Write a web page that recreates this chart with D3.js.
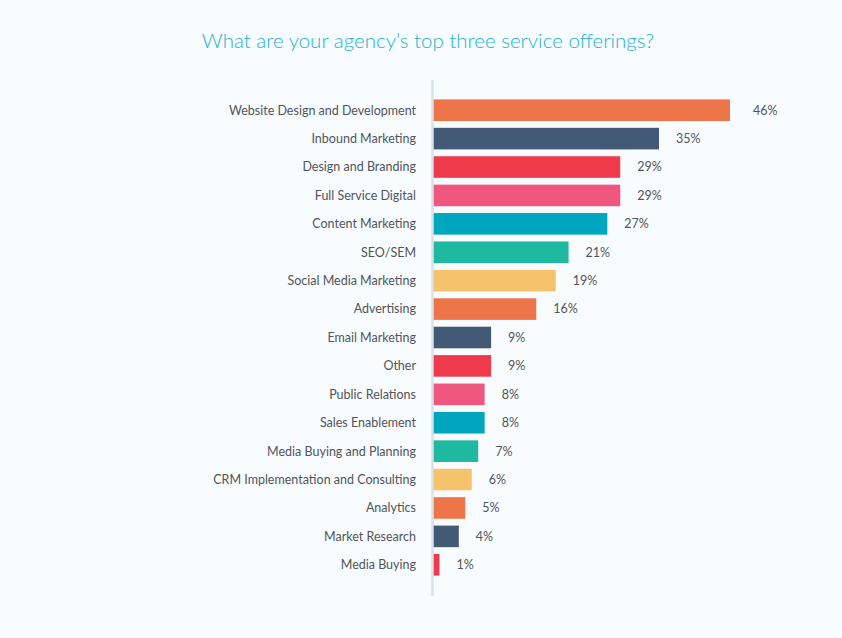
<!DOCTYPE html>
<html><head><meta charset="utf-8">
<script src="https://cdn.jsdelivr.net/npm/d3@7"></script>
<style>
html,body{margin:0;padding:0;background:#f8fcfe;}
svg{display:block;}
</style></head>
<body>
<svg id="chart" width="842" height="638"></svg>
<script>
const categories = ["Website Design and Development","Inbound Marketing","Design and Branding","Full Service Digital","Content Marketing","SEO/SEM","Social Media Marketing","Advertising","Email Marketing","Other","Public Relations","Sales Enablement","Media Buying and Planning","CRM Implementation and Consulting","Analytics","Market Research","Media Buying"];
const values = [46,35,29,29,27,21,19,16,9,9,8,8,7,6,5,4,1];
const palette = ["#ee754a","#425a75","#ef3a4c","#f0577f","#00a5bf","#1fb8a0","#f4c36c"];
const title = "What are your agency’s top three service offerings?";

const svg = d3.select("#chart");
const W = 842, H = 638;
svg.append("rect").attr("width",W).attr("height",H).attr("fill","#f8fcfe");

const x0 = 433;
const x = d3.scaleLinear().domain([0,46]).range([x0, 730]);
const y = d3.scaleBand().domain(categories).range([96, 579]).paddingInner(0.24).paddingOuter(0.12);

svg.append("text").attr("x",428).attr("y",48).attr("text-anchor","middle")
  .attr("font-family","Lato, 'Open Sans', sans-serif").attr("font-size",20.5).attr("font-weight",300)
  .attr("fill","#22b2cf").text(title);

svg.append("g").selectAll("rect").data(categories).join("rect")
  .attr("x", x0).attr("y", d=>y(d)).attr("height", y.bandwidth())
  .attr("width", (d,i)=>x(values[i])-x0)
  .attr("fill", (d,i)=>palette[i%palette.length]);

// axis line
svg.append("line").attr("x1",432.5).attr("x2",432.5).attr("y1",80).attr("y2",596)
  .attr("stroke","#d9e2eb").attr("stroke-width",2.5);

svg.append("g").selectAll("text").data(categories).join("text")
  .attr("x", 416).attr("y", d=>y(d)+y.bandwidth()/2).attr("dy","0.35em")
  .attr("text-anchor","end").attr("font-family","Lato, 'Open Sans', sans-serif")
  .attr("font-size",12.5).attr("fill","#50555c").text(d=>d);

svg.append("g").selectAll("text").data(categories).join("text")
  .attr("x", (d,i)=>x(values[i])+ (i===0?23:17)).attr("y", d=>y(d)+y.bandwidth()/2).attr("dy","0.35em")
  .attr("font-family","Lato, 'Open Sans', sans-serif")
  .attr("font-size",12.5).attr("fill","#50555c").text((d,i)=>values[i]+"%");
</script>
</body></html>
